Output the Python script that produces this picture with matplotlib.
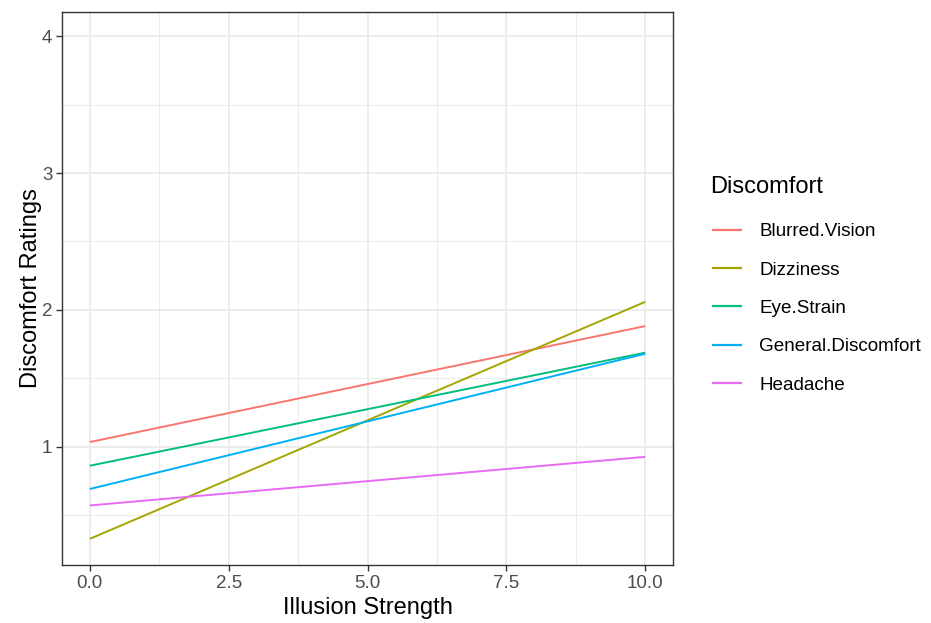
import matplotlib
matplotlib.use("Agg")
import matplotlib.pyplot as plt
from matplotlib.ticker import MultipleLocator

plt.rcParams['font.family'] = ['Liberation Sans', 'DejaVu Sans']

categories = ["Blurred.Vision", "Dizziness", "Eye.Strain", "General.Discomfort", "Headache"]
colors = ["#F8766D", "#A3A500", "#00BF7D", "#00B0F6", "#E76BF3"]
x_ends = [0.0, 10.0]
start_vals = [1.035, 0.328, 0.862, 0.692, 0.572]
end_vals = [1.882, 2.059, 1.688, 1.680, 0.927]

fig = plt.figure(figsize=(9.31, 6.23), dpi=100)
ax = fig.add_axes([62/931, 58/623, (673-62)/931, (565-12)/623])

for cat, col, s, e in zip(categories, colors, start_vals, end_vals):
    ax.plot(x_ends, [s, e], color=col, lw=1.4, label=cat, solid_capstyle='butt')

ax.set_xlim(-0.5, 10.5)
ax.set_ylim(0.137, 4.176)
ax.xaxis.set_major_locator(MultipleLocator(2.5))
ax.xaxis.set_minor_locator(MultipleLocator(1.25))
ax.yaxis.set_major_locator(MultipleLocator(1))
ax.yaxis.set_minor_locator(MultipleLocator(0.5))
ax.set_xticks([0, 2.5, 5, 7.5, 10])
ax.set_xticklabels(["0.0", "2.5", "5.0", "7.5", "10.0"])
ax.set_yticks([1, 2, 3, 4])

ax.grid(which='major', color='#EBEBEB', lw=1.3)
ax.grid(which='minor', color='#EBEBEB', lw=0.7)
ax.set_axisbelow(True)
for sp in ax.spines.values():
    sp.set_color('#333333')
    sp.set_linewidth(1.0)
ax.tick_params(which='major', length=4, width=1.0, color='#333333',
               labelsize=13.5, labelcolor='#4D4D4D', pad=3)
ax.tick_params(which='minor', length=0)

ax.set_xlabel("Illusion Strength", fontsize=17, color='black', labelpad=4)
ax.set_ylabel("Discomfort Ratings", fontsize=17, color='black', labelpad=0)

fig.text(710/931, 1 - 187/623, "Discomfort", fontsize=17, color='black',
         ha='left', va='center')
leg = ax.legend(loc='upper left', bbox_to_anchor=(712/931, 1 - 223/623),
                bbox_transform=fig.transFigure, frameon=False,
                fontsize=13.6, handlelength=1.6, handletextpad=0.9,
                labelspacing=1.12, borderaxespad=0, borderpad=0)
for line in leg.get_lines():
    line.set_linewidth(1.6)

fig.savefig("out.png", dpi=100)
